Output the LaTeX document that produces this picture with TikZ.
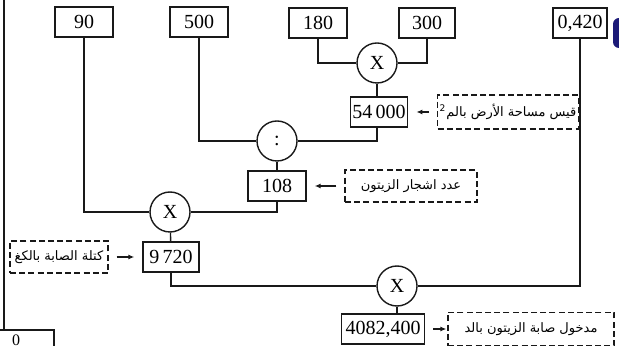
\documentclass[tikz,border=0pt]{standalone}
\usepackage{fontspec}
\setmainfont{Liberation Serif}
\newfontfamily\arabicfont[Script=Arabic]{DejaVu Sans}
\TeXXeTstate=1
\usetikzlibrary{arrows.meta,positioning}
\definecolor{inkBlack}{RGB}{25,25,25}
\definecolor{tabNavy}{RGB}{28,26,120}

\begin{document}
\begin{tikzpicture}[x=0.5pt,y=-0.5pt,
  valbox/.style={draw=inkBlack, line width=0.7pt, minimum height=15pt, inner sep=1pt, font=\fontsize{10}{12}\selectfont},
  opnode/.style={draw=inkBlack, circle, line width=0.7pt, minimum size=20pt, inner sep=0pt, font=\fontsize{10}{12}\selectfont},
  notebox/.style={draw=inkBlack, dash pattern=on 3pt off 1.6pt, line width=0.6pt, minimum height=16pt, inner sep=1pt, font=\arabicfont\fontsize{6.5}{8}\selectfont},
  wire/.style={inkBlack, line width=0.7pt},
  pointer/.style={inkBlack, line width=0.7pt, -{Latex[length=3pt,width=2.5pt]}, shorten <=4pt, shorten >=4pt}]
\useasboundingbox (0,0) rectangle (619,346);
\clip (0,0) rectangle (619,346);

% input values
\node[valbox, minimum width=29pt] (n90) at (84,22) {90};
\node[valbox, minimum width=29pt] (n500) at (199,22) {500};
\node[valbox, minimum width=29pt] (n180) at (318,23) {180};
\node[valbox, minimum width=28pt] (n300) at (427,23) {300};
\node[valbox, minimum width=27pt] (n0420) at (580,23) {0,420};

% operations and results
\node[opnode] (mulA) at (377,63) {X};
\node[valbox, minimum width=27.5pt] (area) at (379,112) {54\,000};
\node[opnode] (divA) at (277,141) {:};
\node[valbox, minimum width=29pt] (trees) at (277,186) {108};
\node[opnode] (mulB) at (170,212) {X};
\node[valbox, minimum width=28pt] (mass) at (171,257) {9\,720};
\node[opnode] (mulC) at (397,286) {X};
\node[valbox, minimum width=41.5pt] (income) at (383,329) {4082,400};

\draw[wire] (n180) |- (mulA);
\draw[wire] (n300) |- (mulA);
\draw[wire] (mulA) -- (mulA |- area.north);
\draw[wire] (mulA |- area.south) |- (divA);
\draw[wire] (n500) |- (divA);
\draw[wire] (divA) -- (trees);
\draw[wire] (trees) |- (mulB);
\draw[wire] (n90) |- (mulB);
\draw[wire] (mulB) -- (mass);
\draw[wire] (mass) |- (mulC);
\draw[wire] (n0420) |- (mulC);
\draw[wire] (mulC) -- (mulC |- income.north);

% dashed notes
\node[notebox, minimum width=69pt, minimum height=17pt] (areaNote) at (508,112) {\beginR قيس مساحة الأرض بالم\textsuperscript{2}\endR};
\node[notebox, minimum width=66pt] (treesNote) at (411,186) {\beginR عدد اشجار الزيتون\endR};
\node[notebox, minimum width=49pt] (massNote) at (59,257) {\beginR كتلة الصابة بالكغ\endR};
\node[notebox, minimum width=83pt, minimum height=16.5pt] (incomeNote) at (531,329) {\beginR مدخول صابة الزيتون بالد\endR};

\draw[pointer] (areaNote) -- (area);
\draw[pointer] (treesNote) -- (trees);
\draw[pointer] (massNote) -- (mass);
\draw[pointer, shorten >=0.5pt] (income) -- (incomeNote);

% page edges
\draw[wire] (4,0) -- (4,330);
\draw[wire] (0,330) -| (54,346);
\node[font=\fontsize{8}{9}\selectfont, inner sep=0pt, anchor=north] (pageZero) at (16,334) {0};
\fill[tabNavy, rounded corners=3pt] (613,18) rectangle (630,48);
\end{tikzpicture}
\end{document}
